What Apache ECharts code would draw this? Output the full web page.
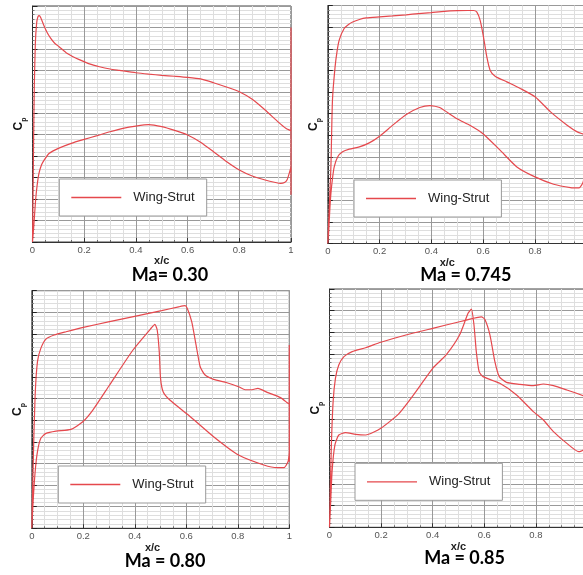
<!DOCTYPE html>
<html><head><meta charset="utf-8">
<script src="https://cdn.jsdelivr.net/npm/echarts@6/dist/echarts.min.js"></script>
<style>html,body{margin:0;padding:0;background:#fff}#c{width:583px;height:575px}</style>
</head><body><div id="c"></div>
<script>
// ---- Data: [x/c, Cp] ----
const titles = ['Ma= 0.30', 'Ma = 0.745', 'Ma = 0.80', 'Ma = 0.85'];
const seriesName = 'Wing-Strut';

const upper030 = [[0,1.0],[0.002,0.6],[0.004,0.1],[0.007,-0.45],[0.011,-0.85],[0.016,-1.04],[0.021,-1.10],[0.026,-1.11],[0.032,-1.09],[0.042,-1.03],[0.055,-0.96],[0.07,-0.90],[0.085,-0.855],[0.103,-0.82],[0.13,-0.765],[0.155,-0.73],[0.181,-0.70],[0.22,-0.66],[0.259,-0.634],[0.3,-0.613],[0.337,-0.60],[0.4,-0.578],[0.45,-0.565],[0.5,-0.554],[0.55,-0.545],[0.6,-0.535],[0.65,-0.52],[0.7,-0.485],[0.75,-0.445],[0.8,-0.40],[0.85,-0.33],[0.9,-0.23],[0.95,-0.12],[0.98,-0.06],[1.0,-0.037]];
const te030 = [[1.0,-1.0],[1.0,0.56],[1.0,0.30]];
const lower030 = [[0,1.0],[0.005,0.85],[0.012,0.61],[0.018,0.47],[0.025,0.36],[0.035,0.28],[0.045,0.236],[0.065,0.173],[0.1,0.127],[0.15,0.08],[0.2,0.043],[0.25,0.008],[0.3,-0.028],[0.35,-0.06],[0.4,-0.081],[0.45,-0.094],[0.5,-0.075],[0.55,-0.04],[0.6,0.002],[0.65,0.07],[0.7,0.158],[0.75,0.25],[0.8,0.329],[0.85,0.385],[0.9,0.422],[0.94,0.445],[0.96,0.453],[0.975,0.445],[0.985,0.42],[0.995,0.345],[1.0,0.30]];

const upper0745 = [[0,1.0],[0.006,0.65],[0.012,0.29],[0.018,-0.325],[0.028,-0.63],[0.036,-0.78],[0.044,-0.88],[0.063,-0.987],[0.08,-1.025],[0.096,-1.048],[0.122,-1.071],[0.148,-1.085],[0.2,-1.095],[0.25,-1.104],[0.303,-1.114],[0.35,-1.125],[0.4,-1.135],[0.45,-1.146],[0.5,-1.152],[0.54,-1.154],[0.562,-1.154],[0.575,-1.141],[0.588,-1.064],[0.601,-0.91],[0.614,-0.725],[0.627,-0.60],[0.646,-0.547],[0.691,-0.494],[0.743,-0.433],[0.8,-0.356],[0.86,-0.217],[0.924,-0.094],[0.963,-0.032],[0.988,-0.01],[1.0,0.0]];
const te0745 = [[1.0,0.2]];
const lower0745 = [[0,1.0],[0.003,0.908],[0.007,0.72],[0.012,0.538],[0.018,0.40],[0.025,0.29],[0.038,0.2],[0.057,0.153],[0.083,0.128],[0.122,0.107],[0.16,0.07],[0.2,0.008],[0.251,-0.094],[0.303,-0.192],[0.355,-0.257],[0.394,-0.275],[0.432,-0.257],[0.497,-0.155],[0.55,-0.09],[0.598,-0.017],[0.665,0.137],[0.73,0.292],[0.8,0.384],[0.872,0.452],[0.937,0.483],[0.97,0.486],[0.986,0.43],[1.0,0.2]];

const upper080 = [[0,1.0],[0.0065,0.29],[0.013,-0.234],[0.022,-0.543],[0.035,-0.666],[0.055,-0.752],[0.087,-0.79],[0.133,-0.82],[0.2,-0.86],[0.302,-0.913],[0.404,-0.965],[0.504,-1.015],[0.57,-1.05],[0.595,-1.061],[0.604,-1.036],[0.621,-0.913],[0.638,-0.697],[0.654,-0.496],[0.673,-0.419],[0.706,-0.379],[0.758,-0.348],[0.803,-0.311],[0.829,-0.283],[0.855,-0.283],[0.878,-0.296],[0.914,-0.259],[0.966,-0.21],[0.995,-0.157],[1.0,-0.15]];
const te080 = [[1.0,-0.697],[1.0,0.383],[1.0,0.30]];
const lower080 = [[0,1.0],[0.005,0.754],[0.013,0.476],[0.022,0.29],[0.035,0.167],[0.055,0.121],[0.094,0.1],[0.152,0.084],[0.198,0.013],[0.237,-0.095],[0.302,-0.327],[0.393,-0.651],[0.465,-0.857],[0.478,-0.888],[0.487,-0.836],[0.495,-0.635],[0.5,-0.388],[0.51,-0.265],[0.536,-0.188],[0.608,-0.049],[0.706,0.152],[0.803,0.322],[0.901,0.414],[0.953,0.439],[0.979,0.439],[0.995,0.383],[1.0,0.30]];

const upper085 = [[0,1.0],[0.0065,0.302],[0.014,-0.16],[0.023,-0.375],[0.036,-0.498],[0.056,-0.575],[0.088,-0.622],[0.14,-0.658],[0.199,-0.708],[0.296,-0.775],[0.4,-0.837],[0.504,-0.898],[0.57,-0.935],[0.589,-0.942],[0.602,-0.92],[0.622,-0.775],[0.641,-0.529],[0.658,-0.391],[0.686,-0.338],[0.738,-0.32],[0.79,-0.308],[0.829,-0.323],[0.868,-0.308],[0.92,-0.268],[0.984,-0.215],[1.0,-0.2]];
const te085 = [[1.0,0.2]];
const lower085 = [[0,1.0],[0.003,0.855],[0.01,0.486],[0.021,0.24],[0.036,0.148],[0.062,0.126],[0.101,0.142],[0.14,0.148],[0.199,0.086],[0.27,-0.052],[0.335,-0.252],[0.4,-0.468],[0.452,-0.591],[0.504,-0.775],[0.537,-0.975],[0.55,-1.015],[0.56,-0.868],[0.569,-0.622],[0.58,-0.437],[0.595,-0.391],[0.66,-0.329],[0.725,-0.222],[0.79,-0.068],[0.829,0.009],[0.868,0.117],[0.92,0.225],[0.966,0.302],[0.984,0.286],[1.0,0.2]];

const panels = [
  {upper: upper030, te: te030, lower: lower030},
  {upper: upper0745, te: te0745, lower: lower0745},
  {upper: upper080, te: te080, lower: lower080},
  {upper: upper085, te: te085, lower: lower085}
];

// ---- Layout (pixels) ----
const grids = [
  {left: 32.5, top: 6, width: 258.5, height: 236},
  {left: 327.8, top: 5.5, width: 259, height: 238},
  {left: 31.8, top: 290.7, width: 257.5, height: 237.6},
  {left: 329.5, top: 289, width: 258, height: 238.3}
];
const legendPos = [[59.3,179],[354,180],[58.3,466],[355,463.3]];
const titlePos = [[170,266],[465.8,266],[165,552],[464.5,549]];
const xNameShift = [0, 20, 16, 0];
const xNameGap = [13, 13, 13, 11];
const showLastLabel = [true, false, true, false];

const RED = '#e5484d';
const FONT = 'Liberation Sans, Arial, sans-serif';

const option = {
  backgroundColor: '#fff',
  animation: false,
  grid: grids.map(g => Object.assign({show: true, borderColor: '#444', borderWidth: 1, backgroundColor: '#fff', containLabel: false, outerBoundsMode: 'none'}, g)),
  title: titles.map((t, i) => ({
    text: t, left: titlePos[i][0], top: titlePos[i][1], textAlign: 'center', padding: 0,
    textStyle: {fontFamily: 'Lato', fontWeight: 'bold', fontSize: 18, color: '#000'}
  })),
  legend: legendPos.map(p => ({
    data: [seriesName], left: p[0], top: p[1], padding: [12, 12, 12, 12],
    backgroundColor: '#fff', borderColor: '#999', borderWidth: 1, borderRadius: 0,
    itemWidth: 50, itemHeight: 1.3, icon: 'rect', selectedMode: false, z: 10,
    textStyle: {fontFamily: FONT, fontSize: 13, color: '#222', padding: [0, 0, 0, 7]}
  })),
  xAxis: grids.map((g, i) => ({
    gridIndex: i, type: 'value', min: 0, max: 1, interval: 0.2,
    name: 'x/c', nameLocation: 'middle', nameGap: xNameGap[i],
    nameTextStyle: {fontFamily: FONT, fontWeight: 'bold', fontSize: 11, color: '#222', padding: [0, xNameShift[i], 0, 0]},
    axisLine: {show: true, onZero: false, lineStyle: {color: '#333', width: 1}},
    axisTick: {show: true, inside: true, length: 4, lineStyle: {color: '#333'}},
    minorTick: {show: true, splitNumber: 4, length: 2, lineStyle: {color: '#666'}},
    axisLabel: {fontFamily: FONT, fontSize: 9.5, color: '#555', margin: 3, showMaxLabel: showLastLabel[i]},
    splitLine: {show: true, lineStyle: {color: '#999', width: 1}},
    minorSplitLine: {show: true, lineStyle: {color: '#dedede', width: 1}}
  })),
  yAxis: grids.map((g, i) => ({
    gridIndex: i, type: 'value', inverse: true, min: -1.2, max: 1.0, interval: 0.2,
    name: '{c|C}{p|p}', nameLocation: 'middle', nameRotate: 90, nameGap: 5,
    nameTextStyle: {rich: {
      c: {fontFamily: FONT, fontWeight: 'bold', fontSize: 12, color: '#111', verticalAlign: 'middle', lineHeight: 18},
      p: {fontFamily: FONT, fontWeight: 'bold', fontSize: 7, color: '#111', verticalAlign: 'bottom', lineHeight: 8}
    }},
    axisLine: {show: true, onZero: false, lineStyle: {color: '#333', width: 1}},
    axisTick: {show: true, inside: true, length: 5, lineStyle: {color: '#222'}},
    minorTick: {show: true, splitNumber: 5, length: 2, lineStyle: {color: '#777'}},
    axisLabel: {show: false},
    splitLine: {show: true, lineStyle: {color: '#999', width: 1}},
    minorSplitLine: {show: true, lineStyle: {color: '#dedede', width: 1}}
  })),
  series: panels.map((p, i) => ({
    name: seriesName, type: 'line', xAxisIndex: i, yAxisIndex: i,
    data: p.upper.concat(p.te, p.lower.slice().reverse()),
    symbol: 'none', showSymbol: false, smooth: 0.2, clip: true,
    lineStyle: {color: RED, width: 1.2}, itemStyle: {color: RED}
  }))
};

const chart = echarts.init(document.getElementById('c'), null, {renderer: 'canvas'});
chart.setOption(option);
</script>
</body></html>
